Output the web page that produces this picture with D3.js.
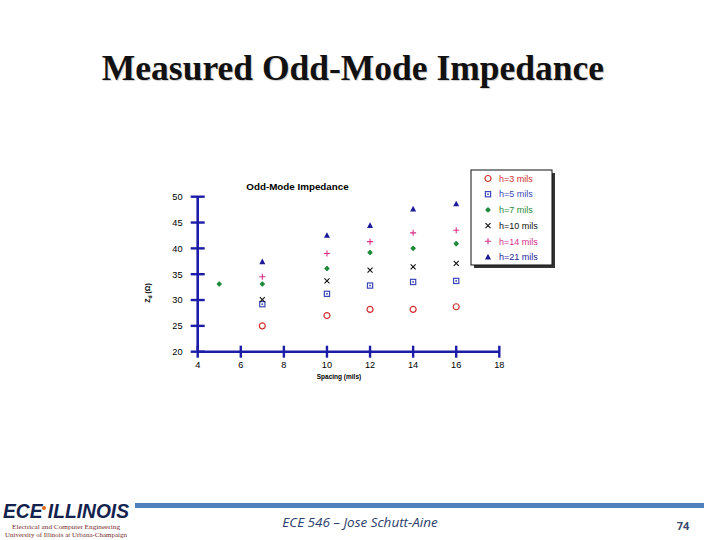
<!DOCTYPE html>
<html>
<head>
<meta charset="utf-8">
<script src="https://cdn.jsdelivr.net/npm/d3@7"></script>
<style>
  body { margin: 0; background: #fff; }
  svg { display: block; }
</style>
</head>
<body>
<svg id="slide" width="720" height="540"></svg>
<script>
    // Data
    const seriesNames = ["h=3 mils", "h=5 mils", "h=7 mils", "h=10 mils", "h=14 mils", "h=21 mils"];
    const spacingH3 = [7, 10, 12, 14, 16];
    const zH3 = [25.0, 27.0, 28.2, 28.2, 28.7];
    const spacingH5 = [7, 10, 12, 14, 16];
    const zH5 = [29.2, 31.2, 32.8, 33.5, 33.7];
    const spacingH7 = [5, 7, 10, 12, 14, 16];
    const zH7 = [33.1, 33.1, 36.1, 39.2, 40.0, 40.9];
    const spacingH10 = [7, 10, 12, 14, 16];
    const zH10 = [30.1, 33.7, 35.8, 36.4, 37.1];
    const spacingH14 = [7, 10, 12, 14, 16];
    const zH14 = [34.5, 39.0, 41.3, 43.0, 43.5];
    const spacingH21 = [7, 10, 12, 14, 16];
    const zH21 = [37.4, 42.5, 44.4, 47.6, 48.6];
    const xTicks = [4, 6, 8, 10, 12, 14, 16, 18];
    const yTicks = [20, 25, 30, 35, 40, 45, 50];

    const seriesX = [spacingH3, spacingH5, spacingH7, spacingH10, spacingH14, spacingH21];
    const seriesY = [zH3, zH5, zH7, zH10, zH14, zH21];
    const colors = ["#d03030", "#3a48b8", "#1f8a3a", "#111111", "#d8308a", "#1a1a9a"];
    const shapes = ["circle", "square", "blob", "cross", "plus", "triangle"];

    const svg = d3.select("#slide");

    // Slide title
    svg.append("text")
        .attr("x", 353).attr("y", 80)
        .attr("text-anchor", "middle")
        .attr("font-family", "Liberation Serif, Times New Roman, serif")
        .attr("font-weight", "bold")
        .attr("font-size", 35.5)
        .attr("fill", "#111")
        .attr("style", "text-shadow: 1px 1px 1px #ccc")
        .text("Measured Odd-Mode Impedance");

    // Scales
    const x = d3.scaleLinear().domain([4, 18]).range([197.7, 499.3]);
    const y = d3.scaleLinear().domain([20, 50]).range([351.7, 196.7]);
    const axisColor = "#1c1ca8";

    const plot = svg.append("g");

    // Axes drawn by hand to get the crossing ticks
    plot.append("line")
        .attr("x1", x(4)).attr("x2", x(18))
        .attr("y1", y(20)).attr("y2", y(20))
        .attr("stroke", axisColor).attr("stroke-width", 2.6);
    plot.append("line")
        .attr("x1", x(4)).attr("x2", x(4))
        .attr("y1", y(50)).attr("y2", y(20))
        .attr("stroke", axisColor).attr("stroke-width", 2.6);

    plot.selectAll(".xt").data(xTicks).join("line")
        .attr("x1", d => x(d)).attr("x2", d => x(d))
        .attr("y1", y(20) - 6).attr("y2", y(20) + 6)
        .attr("stroke", axisColor).attr("stroke-width", 2.4);
    plot.selectAll(".yt").data(yTicks).join("line")
        .attr("x1", x(4) - 7).attr("x2", x(4) + 7)
        .attr("y1", d => y(d)).attr("y2", d => y(d))
        .attr("stroke", axisColor).attr("stroke-width", 2.4);

    const labelFont = "Liberation Sans, Arial, sans-serif";
    plot.selectAll(".xl").data(xTicks).join("text")
        .attr("x", d => x(d)).attr("y", y(20) + 16)
        .attr("text-anchor", "middle")
        .attr("font-family", labelFont).attr("font-size", 9.2)
        .text(d => d);
    plot.selectAll(".yl").data(yTicks).join("text")
        .attr("x", 182.5).attr("y", d => y(d) + 3.3)
        .attr("text-anchor", "end")
        .attr("font-family", labelFont).attr("font-size", 9.2)
        .text(d => d);

    plot.append("text")
        .attr("x", 297.5).attr("y", 190)
        .attr("text-anchor", "middle")
        .attr("font-family", labelFont).attr("font-weight", "bold")
        .attr("font-size", 9.8)
        .text("Odd-Mode Impedance");

    plot.append("text")
        .attr("x", 339).attr("y", 379)
        .attr("text-anchor", "middle")
        .attr("font-family", labelFont).attr("font-weight", "bold")
        .attr("font-size", 6.5)
        .text("Spacing (mils)");

    const yLab = plot.append("text")
        .attr("transform", "translate(150,293) rotate(-90)")
        .attr("text-anchor", "middle")
        .attr("font-family", labelFont).attr("font-weight", "bold")
        .attr("font-size", 7);
    yLab.append("tspan").text("Z");
    yLab.append("tspan").attr("dy", 2).attr("font-size", 5).text("d");
    yLab.append("tspan").attr("dy", -2).text(" (\u03A9)");

    // Marker drawing
    function marker(g, shape, color) {
        if (shape === "circle") {
            g.append("circle").attr("r", 3).attr("fill", "none")
                .attr("stroke", color).attr("stroke-width", 1.2);
        } else if (shape === "square") {
            g.append("rect").attr("x", -2.6).attr("y", -2.6).attr("width", 5.2).attr("height", 5.2)
                .attr("fill", "none").attr("stroke", color).attr("stroke-width", 1.2);
            g.append("rect").attr("x", -0.8).attr("y", -0.8).attr("width", 1.6).attr("height", 1.6)
                .attr("fill", color);
        } else if (shape === "blob") {
            g.append("path").attr("d", d3.symbol(d3.symbolCross, 13)()).attr("fill", color);
            g.append("circle").attr("r", 2.1).attr("fill", color);
        } else if (shape === "cross") {
            g.append("path").attr("d", "M-2.5,-2.5L2.5,2.5M-2.5,2.5L2.5,-2.5")
                .attr("stroke", color).attr("stroke-width", 1.1);
        } else if (shape === "plus") {
            g.append("path").attr("d", "M-3,0L3,0M0,-3L0,3")
                .attr("stroke", color).attr("stroke-width", 1.1);
        } else {
            g.append("path").attr("d", "M0,-3.3L3,2.4L-3,2.4Z").attr("fill", color);
        }
    }

    seriesNames.forEach((name, i) => {
        const pts = seriesX[i].map((sx, j) => ({ sx, z: seriesY[i][j] }));
        plot.append("g").selectAll("g").data(pts).join("g")
            .attr("transform", d => `translate(${x(d.sx)},${y(d.z)})`)
            .each(function () { marker(d3.select(this), shapes[i], colors[i]); });
    });

    // Legend
    const legend = svg.append("g").attr("transform", "translate(471,170)");
    legend.append("rect").attr("x", 3).attr("y", 3).attr("width", 81).attr("height", 95).attr("fill", "#333");
    legend.append("rect").attr("x", 0).attr("y", 0).attr("width", 81).attr("height", 95)
        .attr("fill", "#fff").attr("stroke", "#111").attr("stroke-width", 1);
    seriesNames.forEach((name, i) => {
        const row = legend.append("g").attr("transform", `translate(17,${8.5 + i * 15.7})`);
        marker(row, shapes[i], colors[i]);
        row.append("text").attr("x", 11).attr("y", 3.2)
            .attr("font-family", labelFont).attr("font-size", 9)
            .attr("fill", colors[i]).text(name);
    });

    // Footer
    svg.append("rect").attr("x", 135).attr("y", 503).attr("width", 569).attr("height", 5).attr("fill", "#4f7fbd");
    svg.append("text")
        .attr("x", 360).attr("y", 527)
        .attr("text-anchor", "middle")
        .attr("font-family", "Open Sans, Lato, sans-serif").attr("font-style", "italic")
        .attr("font-size", 13.5).attr("fill", "#2c3e6b")
        .text("ECE 546 \u2013 Jose Schutt-Aine");
    svg.append("text")
        .attr("x", 683).attr("y", 530)
        .attr("text-anchor", "middle")
        .attr("font-family", "Open Sans, Lato, sans-serif").attr("font-weight", "bold")
        .attr("font-size", 11).attr("fill", "#3a4a6e")
        .text("74");

    // Logo
    const logo = svg.append("g");
    logo.append("text")
        .attr("x", 3).attr("y", 518)
        .attr("font-family", "Liberation Sans, Arial, sans-serif")
        .attr("font-weight", "bold").attr("font-style", "italic")
        .attr("font-size", 21).attr("fill", "#14224e")
        .attr("textLength", 126).attr("lengthAdjust", "spacingAndGlyphs")
        .text("ECE ILLINOIS");
    logo.append("circle").attr("cx", 44).attr("cy", 508).attr("r", 2).attr("fill", "#e06a1a");
    logo.append("text")
        .attr("x", 66).attr("y", 529)
        .attr("text-anchor", "middle")
        .attr("font-family", "Liberation Serif, serif").attr("font-size", 6)
        .attr("fill", "#7a2a2a")
        .attr("textLength", 108).attr("lengthAdjust", "spacingAndGlyphs")
        .text("Electrical and Computer Engineering");
    logo.append("text")
        .attr("x", 66).attr("y", 537)
        .attr("text-anchor", "middle")
        .attr("font-family", "Liberation Serif, serif").attr("font-size", 6)
        .attr("fill", "#7a2a2a")
        .attr("textLength", 122).attr("lengthAdjust", "spacingAndGlyphs")
        .text("University of Illinois at Urbana-Champaign");
</script>
</body>
</html>
